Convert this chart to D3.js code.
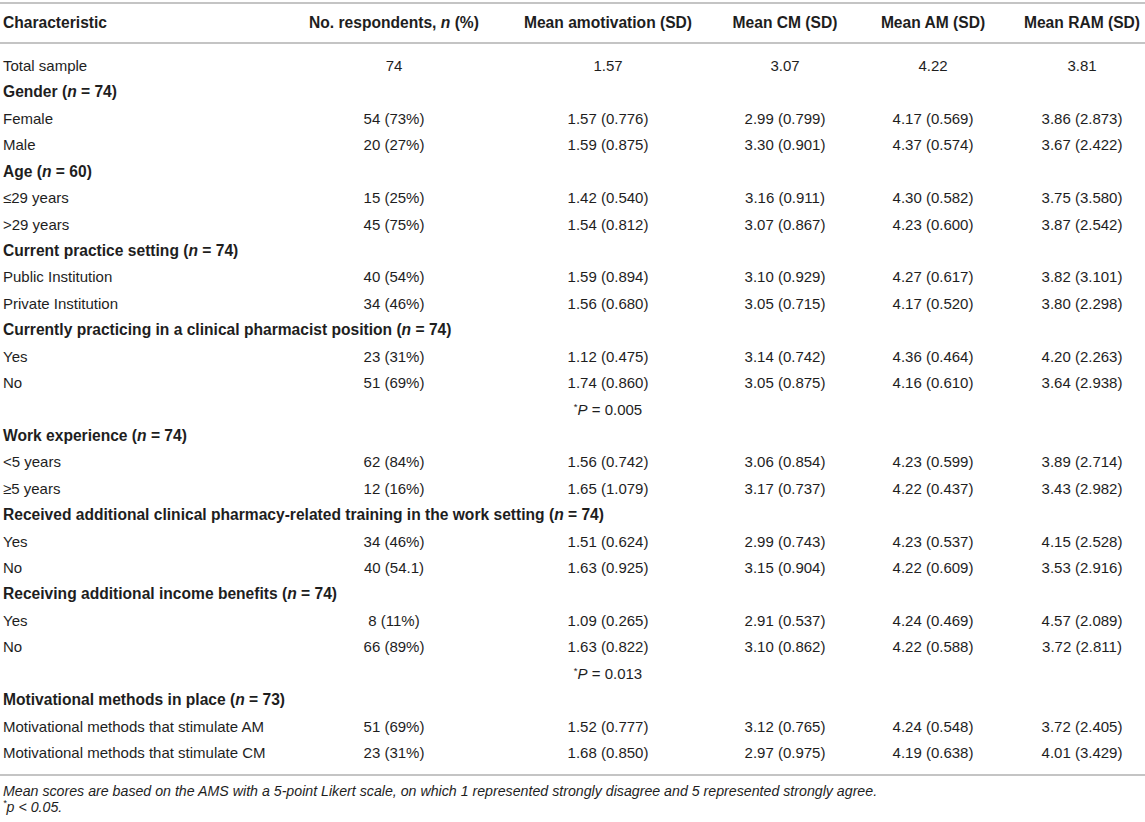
<!DOCTYPE html>
<html>
<head>
<meta charset="utf-8">
<script src="https://cdn.jsdelivr.net/npm/d3@7/dist/d3.min.js"></script>
<style>
  html, body { margin: 0; padding: 0; background: #fff; }
  svg { display: block; }
  text { font-family: "Liberation Sans", Arial, Helvetica, sans-serif; fill: #1e1e1e; }
</style>
</head>
<body>
<svg id="chart" width="1145" height="822"></svg>
<script>
// ---------- DATA ----------
const columnHeaders = ["Characteristic", "No. respondents, n (%)", "Mean amotivation (SD)", "Mean CM (SD)", "Mean AM (SD)", "Mean RAM (SD)"];

const rowLabels = [
  "Total sample",
  "Gender (n = 74)",
  "Female",
  "Male",
  "Age (n = 60)",
  "≤29 years",
  ">29 years",
  "Current practice setting (n = 74)",
  "Public Institution",
  "Private Institution",
  "Currently practicing in a clinical pharmacist position (n = 74)",
  "Yes",
  "No",
  "",
  "Work experience (n = 74)",
  "<5 years",
  "≥5 years",
  "Received additional clinical pharmacy-related training in the work setting (n = 74)",
  "Yes",
  "No",
  "Receiving additional income benefits (n = 74)",
  "Yes",
  "No",
  "",
  "Motivational methods in place (n = 73)",
  "Motivational methods that stimulate AM",
  "Motivational methods that stimulate CM"
];

const rowKinds = [
  "item", "group", "item", "item", "group", "item", "item", "group", "item", "item",
  "group", "item", "item", "note", "group", "item", "item", "group", "item", "item",
  "group", "item", "item", "note", "group", "item", "item"
];

const respondents = [
  "74", "", "54 (73%)", "20 (27%)", "", "15 (25%)", "45 (75%)", "", "40 (54%)", "34 (46%)",
  "", "23 (31%)", "51 (69%)", "", "", "62 (84%)", "12 (16%)", "", "34 (46%)", "40 (54.1)",
  "", "8 (11%)", "66 (89%)", "", "", "51 (69%)", "23 (31%)"
];

const meanAmotivation = [
  "1.57", "", "1.57 (0.776)", "1.59 (0.875)", "", "1.42 (0.540)", "1.54 (0.812)", "", "1.59 (0.894)", "1.56 (0.680)",
  "", "1.12 (0.475)", "1.74 (0.860)", "*P = 0.005", "", "1.56 (0.742)", "1.65 (1.079)", "", "1.51 (0.624)", "1.63 (0.925)",
  "", "1.09 (0.265)", "1.63 (0.822)", "*P = 0.013", "", "1.52 (0.777)", "1.68 (0.850)"
];

const meanCM = [
  "3.07", "", "2.99 (0.799)", "3.30 (0.901)", "", "3.16 (0.911)", "3.07 (0.867)", "", "3.10 (0.929)", "3.05 (0.715)",
  "", "3.14 (0.742)", "3.05 (0.875)", "", "", "3.06 (0.854)", "3.17 (0.737)", "", "2.99 (0.743)", "3.15 (0.904)",
  "", "2.91 (0.537)", "3.10 (0.862)", "", "", "3.12 (0.765)", "2.97 (0.975)"
];

const meanAM = [
  "4.22", "", "4.17 (0.569)", "4.37 (0.574)", "", "4.30 (0.582)", "4.23 (0.600)", "", "4.27 (0.617)", "4.17 (0.520)",
  "", "4.36 (0.464)", "4.16 (0.610)", "", "", "4.23 (0.599)", "4.22 (0.437)", "", "4.23 (0.537)", "4.22 (0.609)",
  "", "4.24 (0.469)", "4.22 (0.588)", "", "", "4.24 (0.548)", "4.19 (0.638)"
];

const meanRAM = [
  "3.81", "", "3.86 (2.873)", "3.67 (2.422)", "", "3.75 (3.580)", "3.87 (2.542)", "", "3.82 (3.101)", "3.80 (2.298)",
  "", "4.20 (2.263)", "3.64 (2.938)", "", "", "3.89 (2.714)", "3.43 (2.982)", "", "4.15 (2.528)", "3.53 (2.916)",
  "", "4.57 (2.089)", "3.72 (2.811)", "", "", "3.72 (2.405)", "4.01 (3.429)"
];

const footnotes = [
  "Mean scores are based on the AMS with a 5-point Likert scale, on which 1 represented strongly disagree and 5 represented strongly agree.",
  "*p < 0.05."
];

// ---------- LAYOUT ----------
const W = 1145, H = 822;
const svg = d3.select("#chart");
const bodySize = 15;
const boldSize = 15.6;

// column anchors (first column left-aligned, others centered)
const colX = d3.scaleOrdinal()
  .domain(d3.range(6))
  .range([3, 394, 608, 785, 933, 1082]);

const rowIdx = d3.range(rowLabels.length);
const y = d3.scaleLinear()
  .domain([0, rowLabels.length - 1])
  .range([67, 754]);

// rules
const rules = [3, 43, 775];
svg.selectAll("line.rule").data(rules).join("line")
  .attr("class", "rule")
  .attr("x1", 0).attr("x2", W)
  .attr("y1", d => d).attr("y2", d => d)
  .attr("stroke", "#c4c4c4").attr("stroke-width", 2);

// helper: write text with italic n / P / p pieces
function richText(sel, str) {
  const parts = [];
  const re = /(\bn\b|\*P|\*p)/g;
  let last = 0, m;
  while ((m = re.exec(str)) !== null) {
    if (m.index > last) parts.push({t: str.slice(last, m.index), it: false});
    if (m[0] === "*P" || m[0] === "*p") {
      parts.push({t: "*", it: false, sup: true});
      parts.push({t: m[0].slice(1), it: true});
    } else {
      parts.push({t: m[0], it: true});
    }
    last = m.index + m[0].length;
  }
  if (last < str.length) parts.push({t: str.slice(last), it: false});
  sel.selectAll("tspan").data(parts).join("tspan")
    .text(d => d.t)
    .attr("font-style", d => d.it ? "italic" : null)
    .attr("font-size", d => d.sup ? "0.65em" : null)
    .attr("dy", (d, i) => {
      if (d.sup) return "-0.4em";
      if (i > 0 && parts[i - 1].sup) return "0.26em";
      return null;
    });
}

// header
const header = svg.append("g").attr("class", "header");
header.selectAll("text").data(columnHeaders).join("text")
  .attr("x", (d, i) => colX(i))
  .attr("y", 24)
  .attr("dominant-baseline", "middle")
  .attr("text-anchor", (d, i) => i === 0 ? "start" : "middle")
  .attr("font-size", boldSize)
  .attr("font-weight", "bold")
  .each(function(d) { richText(d3.select(this), d); });

// body
const columns = [rowLabels, respondents, meanAmotivation, meanCM, meanAM, meanRAM];
const body = svg.append("g").attr("class", "body");
const rows = body.selectAll("g.row").data(rowIdx).join("g")
  .attr("class", "row")
  .attr("transform", i => `translate(0,${y(i)})`);

rows.each(function(i) {
  const g = d3.select(this);
  const isGroup = rowKinds[i] === "group";
  const cells = columns.map((col, c) => ({c, v: col[i]})).filter(d => d.v !== "");
  g.selectAll("text").data(cells).join("text")
    .attr("x", d => colX(d.c))
    .attr("y", 0)
    .attr("dominant-baseline", "middle")
    .attr("text-anchor", d => d.c === 0 ? "start" : "middle")
    .attr("font-size", d => (d.c === 0 && isGroup) ? boldSize : bodySize)
    .attr("font-weight", d => (d.c === 0 && isGroup) ? "bold" : null)
    .each(function(d) { richText(d3.select(this), d.v); });
});

// footnotes
svg.selectAll("text.foot").data(footnotes).join("text")
  .attr("class", "foot")
  .attr("x", 3)
  .attr("y", (d, i) => 792 + i * 16)
  .attr("dominant-baseline", "middle")
  .attr("font-size", 14.2)
  .attr("font-style", "italic")
  .each(function(d) { richText(d3.select(this), d); })
  .selectAll("tspan").attr("font-style", "italic");
</script>
</body>
</html>
